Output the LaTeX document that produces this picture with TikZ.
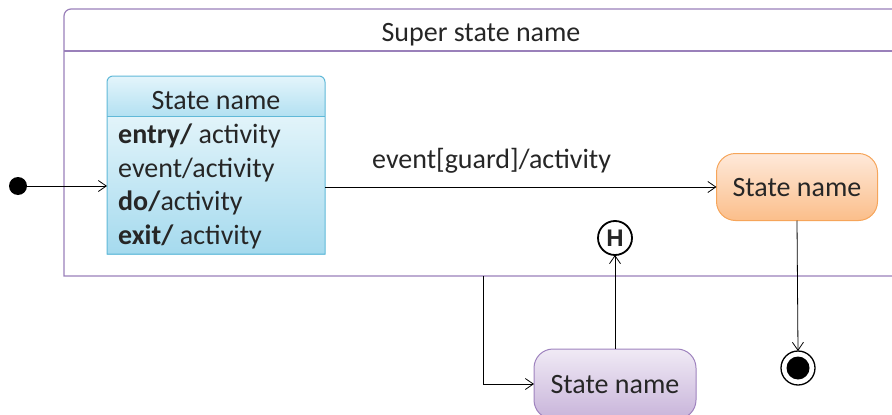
\documentclass[tikz,border=0pt]{standalone}
\usepackage{fontspec}
\setmainfont{Carlito}
\newfontfamily\histfont{Liberation Sans}
\usetikzlibrary{arrows.meta,calc}

\definecolor{superline}{HTML}{9A80BA}
\definecolor{blueline}{HTML}{60B9D8}
\definecolor{bluetopA}{HTML}{E4F5FB}
\definecolor{bluebotA}{HTML}{B3E1F2}
\definecolor{bluetopB}{HTML}{E2F4FA}
\definecolor{bluebotB}{HTML}{A5DAEE}
\definecolor{orangeline}{HTML}{F6A55A}
\definecolor{orangetop}{HTML}{FEE9DA}
\definecolor{orangebot}{HTML}{FBBE8A}
\definecolor{purpleline}{HTML}{9E82BE}
\definecolor{purpletop}{HTML}{F0EAF5}
\definecolor{purplebot}{HTML}{C8B4DA}
\definecolor{inkgray}{HTML}{262626}

\tikzset{
  txt/.style={font=\fontsize{28}{34}\selectfont, text=inkgray, inner sep=0pt},
  slot/.style={inner sep=0pt, outer sep=0pt},
  transition/.style={draw=black, line width=0.8pt, -{Straight Barb[length=8pt,width=11pt]}},
  roundstate/.style={slot, rounded corners=19pt, line width=1pt},
}

\begin{document}
\begin{tikzpicture}[x=1pt,y=-1pt]
\useasboundingbox (0,0) rectangle (892,415);

% super state frame (runs past the right edge)
\node[slot, minimum width=850, minimum height=267] (super) at (489,142.5) {};
\draw[superline, line width=1.2pt]
  (super.south west) [rounded corners=7pt] -- (super.north west) [sharp corners] -- (super.north east)
  -- (super.south east) -- cycle;
\draw[superline, line width=1.2pt] (64,51) -- (914,51);
\node[txt, anchor=base] (supertitle) at (481,41) {Super state name};

% initial pseudo state
\node[circle, fill=black, minimum size=18pt, slot] (init) at (18,186) {};

% composite state with internal activities
\node[slot, minimum width=218, minimum height=178] (blue) at (216,165) {};
\shade[top color=bluetopA, bottom color=bluebotA]
  (blue.west |- 0,116) [rounded corners=6pt] -- (blue.north west) -- (blue.north east) [sharp corners] -- (blue.east |- 0,116) -- cycle;
\shade[top color=bluetopB, bottom color=bluebotB]
  (blue.west |- 0,116) rectangle (blue.south east);
\draw[blueline, line width=1pt]
  (blue.south west) [rounded corners=6pt] -- (blue.north west) -- (blue.north east) [sharp corners] -- (blue.south east) -- cycle;
\draw[blueline, line width=1pt] (blue.west |- 0,116) -- (blue.east |- 0,116);
\node[txt, anchor=base] (bluetitle) at (216,109) {State name};
\node[txt, anchor=base west] (l1) at (118,143) {\textbf{entry/} activity};
\node[txt, anchor=base west] (l2) at (118,177) {event/activity};
\node[txt, anchor=base west] (l3) at (118,210.5) {\textbf{do/}activity};
\node[txt, anchor=base west] (l4) at (118,244) {\textbf{exit/} activity};

% simple states
\node[roundstate, draw=orangeline, top color=orangetop, bottom color=orangebot,
      minimum width=161, minimum height=67] (orange) at (797,187) {};
\node[txt, anchor=base] (orangetext) at (797,196) {State name};

\node[roundstate, draw=purpleline, top color=purpletop, bottom color=purplebot,
      minimum width=162, minimum height=70] (purple) at (615,384) {};
\node[txt, anchor=base] (purpletext) at (615,393) {State name};

% history pseudo state
\node[circle, draw=black, line width=1.8pt, fill=white, minimum size=34pt, slot,
      font=\histfont\fontsize{24}{24}\selectfont\bfseries, text=inkgray] (hist) at (615,238) {H};

% final state
\node[circle, draw=black, line width=1.3pt, fill=white, minimum size=34pt, slot] (final) at (798,368) {};
\node[circle, fill=black, minimum size=23pt, slot] (finaldot) at (final) {};

% transitions
\draw[transition] (init) -- (init -| blue.west);
\draw[transition] (orange.west -| blue.east) -- (orange.west);
\node[txt, anchor=base west] (guard) at (372,168) {event[guard]/activity};
\draw[transition] (purple.north) -- (hist.south);
\draw[transition] (orange.south) -- (final.north);
\coordinate (split) at (483,276);
\draw[transition] (split) |- (purple.west);

\end{tikzpicture}
\end{document}
